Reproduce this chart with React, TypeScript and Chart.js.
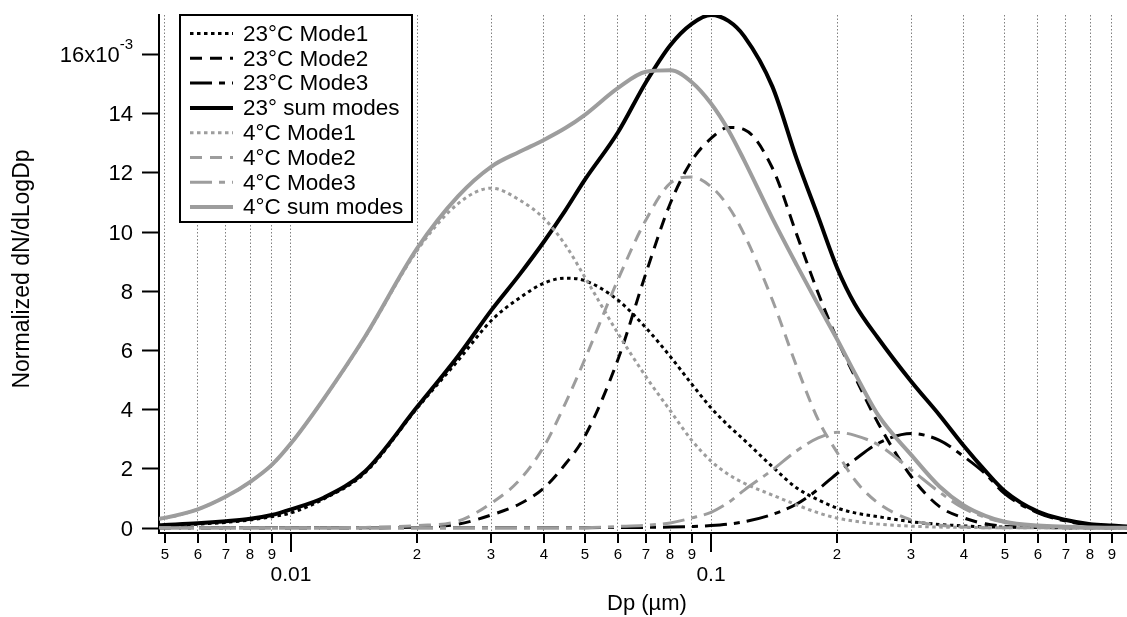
import { useEffect, useRef } from 'react';
import { Chart, registerables } from 'chart.js';

Chart.register(...registerables);

const FONT = '"Liberation Sans", Arial, Helvetica, sans-serif';

// Particle diameter Dp (µm)
const DP = [0.00485, 0.005, 0.006, 0.007, 0.008, 0.009, 0.01, 0.012, 0.015, 0.02, 0.025, 0.03, 0.035, 0.04, 0.045, 0.05, 0.06, 0.07, 0.08, 0.09, 0.1, 0.11, 0.12, 0.14, 0.16, 0.18, 0.2, 0.22, 0.25, 0.3, 0.35, 0.4, 0.45, 0.5, 0.6, 0.7, 0.8, 0.9, 0.98];

// Normalized dN/dLogDp, in units of 1e-3
const T23_MODE1 = [0.06, 0.07, 0.12, 0.18, 0.26, 0.37, 0.5, 0.98, 1.85, 4.05, 5.65, 7.0, 7.76, 8.26, 8.43, 8.35, 7.69, 6.75, 5.78, 4.85, 4.05, 3.45, 2.96, 2.06, 1.34, 0.94, 0.66, 0.5, 0.37, 0.2, 0.11, 0.06, 0.03, 0.02, 0.01, 0, 0, 0, 0];
const T23_MODE2 = [0, 0, 0, 0, 0, 0, 0, 0, 0, 0.02, 0.12, 0.43, 0.8, 1.34, 2.15, 3.07, 5.67, 8.6, 10.96, 12.4, 13.15, 13.52, 13.45, 12.15, 9.9, 7.92, 6.34, 5.1, 3.53, 1.72, 0.71, 0.33, 0.13, 0.05, 0.01, 0, 0, 0, 0];
const T23_MODE3 = [0, 0, 0, 0, 0, 0, 0, 0, 0, 0, 0, 0, 0, 0, 0, 0, 0.01, 0.01, 0.02, 0.04, 0.07, 0.12, 0.2, 0.45, 0.8, 1.3, 1.84, 2.3, 2.85, 3.18, 2.95, 2.4, 1.82, 1.15, 0.5, 0.22, 0.1, 0.04, 0.02];
const T23_SUM = [0.08, 0.09, 0.15, 0.22, 0.3, 0.43, 0.62, 1.02, 1.9, 4.09, 5.8, 7.35, 8.55, 9.66, 10.72, 11.74, 13.35, 15.05, 16.3, 17.02, 17.32, 17.12, 16.6, 14.9, 12.45, 10.5, 8.75, 7.55, 6.4, 4.93, 3.8, 2.76, 1.92, 1.24, 0.54, 0.26, 0.12, 0.07, 0.04];
const T4_MODE1 = [0.3, 0.32, 0.62, 1.05, 1.55, 2.12, 2.85, 4.37, 6.43, 9.38, 10.95, 11.47, 11.07, 10.45, 9.55, 8.48, 6.57, 5.1, 3.95, 2.95, 2.25, 1.8, 1.5, 1.1, 0.77, 0.5, 0.32, 0.22, 0.12, 0.05, 0.02, 0.01, 0, 0, 0, 0, 0, 0, 0];
const T4_MODE2 = [0, 0, 0, 0, 0, 0, 0, 0, 0.01, 0.07, 0.22, 0.83, 1.61, 2.74, 4.2, 5.67, 8.37, 10.4, 11.64, 11.85, 11.52, 10.85, 9.9, 7.69, 5.44, 3.64, 2.52, 1.61, 0.83, 0.26, 0.08, 0.02, 0, 0, 0, 0, 0, 0, 0];
const T4_MODE3 = [0, 0, 0, 0, 0, 0, 0, 0, 0, 0, 0, 0, 0, 0, 0, 0, 0.04, 0.08, 0.16, 0.33, 0.52, 0.85, 1.27, 1.95, 2.6, 3.03, 3.22, 3.12, 2.8, 1.95, 1.2, 0.65, 0.35, 0.18, 0.05, 0.01, 0, 0, 0];
const T4_SUM = [0.3, 0.33, 0.62, 1.05, 1.55, 2.12, 2.85, 4.38, 6.45, 9.45, 11.2, 12.2, 12.7, 13.1, 13.5, 13.94, 14.85, 15.4, 15.45, 15.05, 14.33, 13.43, 12.4, 10.45, 8.87, 7.52, 6.34, 5.22, 3.8, 2.45, 1.39, 0.75, 0.4, 0.2, 0.07, 0.03, 0.01, 0, 0];

const SERIES_LABELS = ['23°C Mode1', '23°C Mode2', '23°C Mode3', '23° sum modes', '4°C Mode1', '4°C Mode2', '4°C Mode3', '4°C sum modes'];

const X_TICKS = [0.005, 0.006, 0.007, 0.008, 0.009, 0.01, 0.02, 0.03, 0.04, 0.05, 0.06, 0.07, 0.08, 0.09, 0.1, 0.2, 0.3, 0.4, 0.5, 0.6, 0.7, 0.8, 0.9];
const X_TICK_LABELS = ['5', '6', '7', '8', '9', '0.01', '2', '3', '4', '5', '6', '7', '8', '9', '0.1', '2', '3', '4', '5', '6', '7', '8', '9'];
const X_MAJOR = [0.01, 0.1];
const Y_TICKS = [0, 2, 4, 6, 8, 10, 12, 14, 16];
const Y_TICK_LABELS = ['0', '2', '4', '6', '8', '10', '12', '14', '16x10'];
const Y_EXPONENT = '-3';
const X_TITLE = 'Dp (µm)';
const Y_TITLE = 'Normalized dN/dLogDp';

const BLACK = '#000000';
const GRAY = '#9d9d9d';
const DOT = [3.5, 3.5];
const DASH = [12, 8];
const DASHDOT = [22, 7, 6, 7];

const toPoints = (ys: number[]) => DP.map((x, i) => ({ x, y: ys[i] }));

const igorPlugin = {
  id: 'igorAxes',
  afterDraw(chart: any) {
    const { ctx, chartArea } = chart;
    const xs = chart.scales.x;
    const ys = chart.scales.y;
    const left = chartArea.left;
    const bottom = chartArea.bottom;
    ctx.save();
    ctx.setLineDash([]);
    ctx.strokeStyle = '#000';
    ctx.fillStyle = '#000';
    ctx.lineWidth = 2;

    // y ticks & labels
    ctx.textBaseline = 'middle';
    Y_TICKS.forEach((v, i) => {
      const py = Math.round(ys.getPixelForValue(v)) + 0.5;
      ctx.beginPath();
      ctx.moveTo(left - 17, py);
      ctx.lineTo(left, py);
      ctx.stroke();
      const lab = Y_TICK_LABELS[i];
      ctx.textAlign = 'right';
      if (i === Y_TICKS.length - 1) {
        ctx.font = `15px ${FONT}`;
        const w = ctx.measureText(Y_EXPONENT).width;
        ctx.fillText(Y_EXPONENT, left - 26, py - 10);
        ctx.font = `22px ${FONT}`;
        ctx.fillText(lab, left - 26 - w, py + 1);
      } else {
        ctx.font = `22px ${FONT}`;
        ctx.fillText(lab, left - 26, py + 1);
      }
    });

    // x ticks & labels
    ctx.textAlign = 'center';
    X_TICKS.forEach((v, i) => {
      const px = Math.round(xs.getPixelForValue(v));
      const major = X_MAJOR.includes(v);
      ctx.beginPath();
      ctx.moveTo(px, bottom);
      ctx.lineTo(px, bottom + (major ? 19 : 10));
      ctx.stroke();
      if (major) {
        ctx.font = `21px ${FONT}`;
        ctx.fillText(X_TICK_LABELS[i], px, bottom + 42);
      } else {
        ctx.font = `15px ${FONT}`;
        ctx.fillText(X_TICK_LABELS[i], px, bottom + 22);
      }
    });

    // axis titles
    ctx.font = `22px ${FONT}`;
    ctx.fillText(X_TITLE, (chartArea.left + chartArea.right) / 2 + 4, bottom + 71);
    ctx.save();
    ctx.translate(23, (chartArea.top + chartArea.bottom) / 2 - 5);
    ctx.rotate(-Math.PI / 2);
    ctx.font = `23px ${FONT}`;
    ctx.fillText(Y_TITLE, 0, 0);
    ctx.restore();

    // legend
    const lx = 180, ly = 15, lw = 232, lh = 207;
    ctx.fillStyle = '#fff';
    ctx.fillRect(lx, ly, lw, lh);
    ctx.strokeStyle = '#000';
    ctx.lineWidth = 2;
    ctx.strokeRect(lx, ly, lw, lh);
    chart.data.datasets.forEach((ds: any, i: number) => {
      const cy = 33.5 + i * 24.8;
      ctx.save();
      ctx.strokeStyle = ds.borderColor;
      ctx.lineWidth = ds.borderWidth;
      ctx.setLineDash(ds.borderDash || []);
      ctx.beginPath();
      ctx.moveTo(190, cy);
      ctx.lineTo(233, cy);
      ctx.stroke();
      ctx.restore();
      ctx.fillStyle = '#000';
      ctx.font = `22.5px ${FONT}`;
      ctx.textAlign = 'left';
      ctx.textBaseline = 'middle';
      ctx.fillText(ds.label, 243, cy + 1);
    });
    ctx.restore();
  },
};

export default function App() {
  const ref = useRef<HTMLCanvasElement>(null);
  useEffect(() => {
    const seriesValues = [T23_MODE1, T23_MODE2, T23_MODE3, T23_SUM, T4_MODE1, T4_MODE2, T4_MODE3, T4_SUM];
    const colors = [BLACK, BLACK, BLACK, BLACK, GRAY, GRAY, GRAY, GRAY];
    const dashes = [DOT, DASH, DASHDOT, [], DOT, DASH, DASHDOT, []];
    const widths = [3, 3, 3, 4, 3, 3, 3, 4];
    const datasets = seriesValues.map((vals, i) => ({
      label: SERIES_LABELS[i],
      data: toPoints(vals),
      borderColor: colors[i],
      borderWidth: widths[i],
      borderDash: dashes[i],
      borderCapStyle: 'butt',
      pointRadius: 0,
      fill: false,
      cubicInterpolationMode: 'monotone',
      order: 8 - i,
    }));
    const chart = new Chart(ref.current as HTMLCanvasElement, {
      type: 'line',
      data: { datasets } as any,
      options: {
        animation: false,
        responsive: false,
        devicePixelRatio: 1,
        layout: { padding: { top: 15, right: 0, left: 0, bottom: 0 } },
        plugins: { legend: { display: false }, tooltip: { enabled: false } },
        scales: {
          x: {
            type: 'logarithmic',
            min: 0.00485,
            max: 0.978,
            bounds: 'data',
            afterBuildTicks: (s: any) => {
              s.ticks = X_TICKS.map((v) => ({ value: v }));
            },
            afterFit: (s: any) => {
              s.height = 84;
            },
            ticks: { display: false },
            grid: { display: true, color: '#808080', lineWidth: 1, drawTicks: false, tickLength: 0 },
            border: { display: true, color: '#000', width: 2, dash: [1.5, 2] },
          },
          y: {
            type: 'linear',
            min: -0.18,
            max: 17.32,
            bounds: 'data',
            afterFit: (s: any) => {
              s.width = 159;
            },
            ticks: { display: false },
            grid: { display: false },
            border: { display: true, color: '#000', width: 2 },
          },
        },
      } as any,
      plugins: [igorPlugin],
    });
    return () => chart.destroy();
  }, []);
  return (
    <div style={{ position: 'fixed', left: 0, top: 0, width: 1127, height: 617, background: '#fff' }}>
      <canvas ref={ref} width={1127} height={617} style={{ display: 'block', width: 1127, height: 617 }} />
    </div>
  );
}
